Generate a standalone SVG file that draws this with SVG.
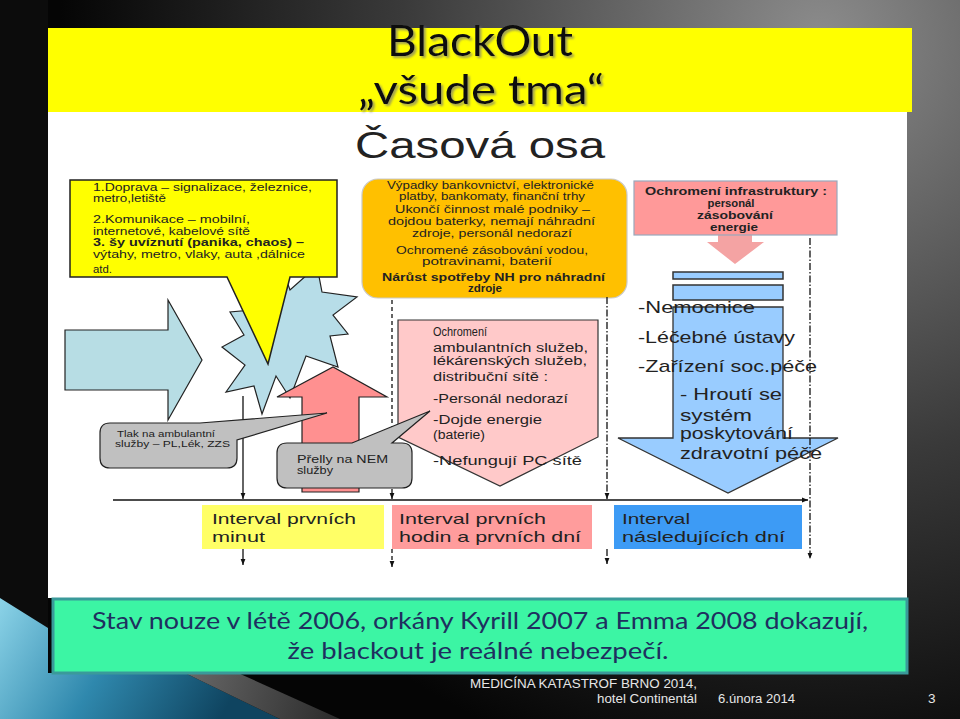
<svg xmlns="http://www.w3.org/2000/svg" width="960" height="719" viewBox="0 0 960 719">
<defs>
<radialGradient id="bg" cx="820" cy="40" r="760" gradientUnits="userSpaceOnUse">
<stop offset="0" stop-color="#8c8c8c"/><stop offset="0.55" stop-color="#3a3a3a"/><stop offset="1" stop-color="#050505"/>
</radialGradient>
<linearGradient id="blueband" x1="0" y1="590" x2="220" y2="719" gradientUnits="userSpaceOnUse">
<stop offset="0" stop-color="#8fd6ea"/><stop offset="0.5" stop-color="#2f88ad"/><stop offset="1" stop-color="#0f4460"/>
</linearGradient>
<linearGradient id="grayband" x1="180" y1="672" x2="340" y2="719" gradientUnits="userSpaceOnUse">
<stop offset="0" stop-color="#6a6a6a"/><stop offset="1" stop-color="#2a2a2a"/>
</linearGradient>
<marker id="ah" viewBox="0 0 10 10" refX="10" refY="5" markerWidth="5" markerHeight="5" orient="auto">
<path d="M0,1 L10,5 L0,9 Z" fill="#111"/>
</marker>
<filter id="sh" x="-10%" y="-10%" width="130%" height="140%">
<feDropShadow dx="2" dy="2" stdDeviation="1" flood-color="#777" flood-opacity="0.7"/>
</filter>
<style>
.t{font-family:"Liberation Sans",Arial,sans-serif;fill:#222}
.b{font-weight:bold}
.cal{font-family:Lato,"Liberation Sans",sans-serif}
.ln{stroke:#111;stroke-width:1.3;fill:none}
.dash{stroke-dasharray:4 3}
.dd{stroke-dasharray:7 2 1.5 2}
</style>
</defs>

<!-- background -->
<rect x="0" y="0" width="960" height="719" fill="url(#bg)"/>
<rect x="0" y="0" width="48" height="719" fill="#101010" opacity="0.6"/>
<polygon points="0,598 48,628 48,673 185,673 280,719 0,719" fill="url(#blueband)"/>
<polygon points="185,673 238,673 340,719 280,719" fill="url(#grayband)"/>
<rect x="48" y="28" width="859" height="570" fill="#ffffff"/>

<g id="title">
<rect x="48" y="28" width="864" height="84" fill="#ffff00"/>
<text class="cal" x="480" y="56" font-size="42" text-anchor="middle" textLength="186" lengthAdjust="spacingAndGlyphs" fill="#111" filter="url(#sh)">BlackOut</text>
<text class="cal" x="481" y="104" font-size="40" text-anchor="middle" textLength="246" lengthAdjust="spacingAndGlyphs" fill="#111" filter="url(#sh)">„všude tma“</text>
</g>
<g id="subtitle">
<text class="t" x="480" y="158" font-size="37" text-anchor="middle" textLength="250" lengthAdjust="spacingAndGlyphs" fill="#111">Časová osa</text>
</g>

<g id="starburst">
<polygon points="280,262 290,290 317,266 322,292 357,297 333,315 348,334 330,336 338,367 306,356 290,398 276,376 262,414 254,386 226,392 245,365 222,347 244,335 230,312 252,310 240,282 268,296" fill="#b7dde8" stroke="#222" stroke-width="1.2"/>
</g>

<g id="left-arrow">
<polygon points="65,330 168,330 168,300 202,360 168,420 168,390 65,390" fill="#b7dde4" stroke="#222" stroke-width="1.2"/>
</g>

<g id="yellow-box">
<path d="M70,180 H337 V277 H290 L268,364 L227,277 H70 Z" fill="#ffff00" stroke="#222" stroke-width="1.5"/>
<text class="t" font-size="11" x="93" y="191" textLength="219" lengthAdjust="spacingAndGlyphs">1.Doprava   – signalizace, železnice,</text>
<text class="t" font-size="11" x="93" y="202" textLength="73" lengthAdjust="spacingAndGlyphs">metro,letiště</text>
<text class="t" font-size="11" x="93" y="223" textLength="157" lengthAdjust="spacingAndGlyphs">2.Komunikace   –  mobilní,</text>
<text class="t" font-size="11" x="93" y="235" textLength="157" lengthAdjust="spacingAndGlyphs">internetové,  kabelové  sítě</text>
<text class="t b" font-size="11" x="93" y="246" textLength="211" lengthAdjust="spacingAndGlyphs">3.  šy  uvíznutí (panika, chaos) –</text>
<text class="t" font-size="11" x="93" y="258" textLength="212" lengthAdjust="spacingAndGlyphs">výtahy,  metro, vlaky,  auta  ,dálnice</text>
<text class="t" font-size="11" x="93" y="273" textLength="19" lengthAdjust="spacingAndGlyphs">atd.</text>
</g>

<g id="orange-box">
<rect x="362" y="179" width="265" height="119" rx="16" fill="#ffc000" stroke="#c9c9c9" stroke-width="1.2"/>
<g font-size="11" text-anchor="middle">
<text class="t" x="490.5" y="189" textLength="207" lengthAdjust="spacingAndGlyphs">Výpadky  bankovnictví,  elektronické</text>
<text class="t" x="492" y="200" textLength="186" lengthAdjust="spacingAndGlyphs">platby, bankomaty,  finanční trhy</text>
<text class="t" x="492.5" y="213" textLength="195" lengthAdjust="spacingAndGlyphs">Ukončí činnost malé podniky  –</text>
<text class="t" x="491.5" y="225" textLength="207" lengthAdjust="spacingAndGlyphs">dojdou baterky,  nemají náhradní</text>
<text class="t" x="492" y="237" textLength="160" lengthAdjust="spacingAndGlyphs">zdroje, personál nedorazí</text>
<text class="t" x="492" y="254" textLength="192" lengthAdjust="spacingAndGlyphs">Ochromené  zásobování  vodou,</text>
<text class="t" x="487" y="265" textLength="130" lengthAdjust="spacingAndGlyphs">potravinami,  baterií</text>
<text class="t b" x="493.5" y="281" textLength="223" lengthAdjust="spacingAndGlyphs">Nárůst spotřeby  NH pro náhradní</text>
<text class="t b" x="485" y="292" textLength="34" lengthAdjust="spacingAndGlyphs">zdroje</text>
</g>
</g>

<g id="infra-box">
<polygon points="718,226 752,226 752,242 764,242 735,264 707,242 718,242" fill="#f4a3a3"/>
<rect x="634" y="181" width="203" height="54" fill="#ff9999" stroke="#98a8bc" stroke-width="1.2"/>
<g font-size="10" text-anchor="middle">
<text class="t b" x="736" y="195" textLength="182" lengthAdjust="spacingAndGlyphs">Ochromení  infrastruktury  :</text>
<text class="t b" x="731" y="207" textLength="47" lengthAdjust="spacingAndGlyphs">personál</text>
<text class="t b" x="735" y="219" textLength="76" lengthAdjust="spacingAndGlyphs">zásobování</text>
<text class="t b" x="734" y="231" textLength="48" lengthAdjust="spacingAndGlyphs">energie</text>
</g>
</g>

<g id="red-arrow">
<polygon points="302,492 302,397 277,397 333,367 387,397 359,397 359,492" fill="#ff9090" stroke="#222" stroke-width="1.2"/>
</g>

<g id="pink-box">
<polygon points="398,320 598,320 598,437 500,486 398,437" fill="#ffc9c9" stroke="#333" stroke-width="1.2"/>
<g font-size="12">
<text class="t" x="433" y="336" textLength="54" lengthAdjust="spacingAndGlyphs">Ochromení</text>
<text class="t" x="433" y="352" textLength="155" lengthAdjust="spacingAndGlyphs">ambulantních služeb,</text>
<text class="t" x="433" y="365" textLength="154" lengthAdjust="spacingAndGlyphs">lékárenských služeb,</text>
<text class="t" x="433" y="381" textLength="115" lengthAdjust="spacingAndGlyphs">distribuční sítě :</text>
<text class="t" x="433" y="403" textLength="135" lengthAdjust="spacingAndGlyphs">-Personál nedorazí</text>
<text class="t" x="433" y="424" textLength="109" lengthAdjust="spacingAndGlyphs">-Dojde energie</text>
<text class="t" x="433" y="439" textLength="52" lengthAdjust="spacingAndGlyphs">(baterie)</text>
<text class="t" x="433" y="465" textLength="149" lengthAdjust="spacingAndGlyphs">-Nefungují PC sítě</text>
</g>
</g>

<g id="blue-arrow">
<rect x="673" y="272" width="110" height="7" fill="#99ccff" stroke="#333" stroke-width="1.5"/>
<rect x="673" y="285" width="110" height="15" fill="#99ccff" stroke="#333" stroke-width="1.5"/>
<polygon points="673,307 783,307 783,438 838,438 728,493 618,438 673,438" fill="#99ccff" stroke="#333" stroke-width="1.3"/>
<g font-size="17">
<text class="t" x="638" y="313" textLength="117" lengthAdjust="spacingAndGlyphs">-Nemocnice</text>
<text class="t" x="638" y="343" textLength="157" lengthAdjust="spacingAndGlyphs">-Léčebné ústavy</text>
<text class="t" x="638" y="372" textLength="179" lengthAdjust="spacingAndGlyphs">-Zařízení soc.péče</text>
<text class="t" x="680" y="400" textLength="102" lengthAdjust="spacingAndGlyphs">- Hroutí se</text>
<text class="t" x="680" y="421" textLength="72" lengthAdjust="spacingAndGlyphs">systém</text>
<text class="t" x="680" y="439" textLength="113" lengthAdjust="spacingAndGlyphs">poskytování</text>
<text class="t" x="680" y="459" textLength="142" lengthAdjust="spacingAndGlyphs">zdravotní  péče</text>
</g>
</g>

<g id="connectors">
<line class="ln" x1="113" y1="500" x2="808" y2="500" marker-end="url(#ah)"/>
<line class="ln" x1="243" y1="396" x2="243" y2="499" marker-end="url(#ah)"/>
<line class="ln" x1="243" y1="549" x2="243" y2="565" marker-end="url(#ah)"/>
<line class="ln dash" x1="392" y1="300" x2="392" y2="499" marker-end="url(#ah)"/>
<line class="ln dash" x1="392" y1="549" x2="392" y2="567" marker-end="url(#ah)"/>
<line class="ln dd" x1="607" y1="297" x2="607" y2="499" marker-end="url(#ah)"/>
<line class="ln dd" x1="607" y1="549" x2="607" y2="564" marker-end="url(#ah)"/>
<line class="ln dd" x1="810" y1="238" x2="810" y2="559" marker-end="url(#ah)"/>
</g>

<g id="callout-tlak">
<path d="M110,423 H200 L327,413 L237,440 V458 Q237,468 227,468 H110 Q100,468 100,458 V433 Q100,423 110,423 Z" fill="#c0c0c0" stroke="#222" stroke-width="1.2"/>
<text class="t" font-size="9.5" x="117" y="437" textLength="98" lengthAdjust="spacingAndGlyphs">Tlak na ambulantní</text>
<text class="t" font-size="9.5" x="115" y="447" textLength="115" lengthAdjust="spacingAndGlyphs">služby – PL,Lék, ZZS</text>
</g>

<g id="callout-nem">
<path d="M287,443 H352 L430,411 L392,443 H402 Q412,443 412,453 V478 Q412,488 402,488 H287 Q277,488 277,478 V453 Q277,443 287,443 Z" fill="#c0c0c0" stroke="#222" stroke-width="1.2"/>
<text class="t" font-size="10" x="297" y="463" textLength="91" lengthAdjust="spacingAndGlyphs">Přelly na NEM</text>
<text class="t" font-size="10" x="297" y="474" textLength="36" lengthAdjust="spacingAndGlyphs">služby</text>
</g>

<g id="interval-minut">
<rect x="202" y="505" width="182" height="44" fill="#ffff66"/>
<text class="t" font-size="15" x="212" y="524" textLength="144" lengthAdjust="spacingAndGlyphs">Interval prvních</text>
<text class="t" font-size="15" x="212" y="542" textLength="53" lengthAdjust="spacingAndGlyphs">minut</text>
</g>
<g id="interval-hodin">
<rect x="392" y="505" width="200" height="44" fill="#ff9c9c"/>
<text class="t" font-size="15" x="399" y="524" textLength="147" lengthAdjust="spacingAndGlyphs">Interval prvních</text>
<text class="t" font-size="15" x="399" y="542" textLength="182" lengthAdjust="spacingAndGlyphs">hodin a prvních dní</text>
</g>
<g id="interval-dni">
<rect x="614" y="505" width="188" height="44" fill="#3d9bf5"/>
<text class="t" font-size="15" x="622" y="524" textLength="68" lengthAdjust="spacingAndGlyphs">Interval</text>
<text class="t" font-size="15" x="622" y="542" textLength="163" lengthAdjust="spacingAndGlyphs">následujících dní</text>
</g>

<g id="note">
<rect x="53" y="599" width="854" height="74" fill="#3cf5a4" stroke="#3a9a9a" stroke-width="3"/>
<text class="cal" font-size="24" x="480" y="629" text-anchor="middle" textLength="776" lengthAdjust="spacingAndGlyphs" fill="#1f2f5f">Stav nouze v létě 2006, orkány Kyrill 2007 a Emma 2008 dokazují,</text>
<text class="cal" font-size="24" x="478" y="659" text-anchor="middle" textLength="381" lengthAdjust="spacingAndGlyphs" fill="#1f2f5f">že blackout  je reálné nebezpečí.</text>
</g>

<g id="footer" font-size="13.5">
<text class="t" x="470" y="688" textLength="227" lengthAdjust="spacingAndGlyphs" style="fill:#e6e6e6">MEDICÍNA KATASTROF BRNO 2014,</text>
<text class="t" x="597" y="703" textLength="100" lengthAdjust="spacingAndGlyphs" style="fill:#e6e6e6">hotel Continentál</text>
<text class="t" x="718" y="703" textLength="77" lengthAdjust="spacingAndGlyphs" style="fill:#e6e6e6">6.února 2014</text>
<text class="t" x="928" y="703" style="fill:#e6e6e6">3</text>
</g>
</svg>
